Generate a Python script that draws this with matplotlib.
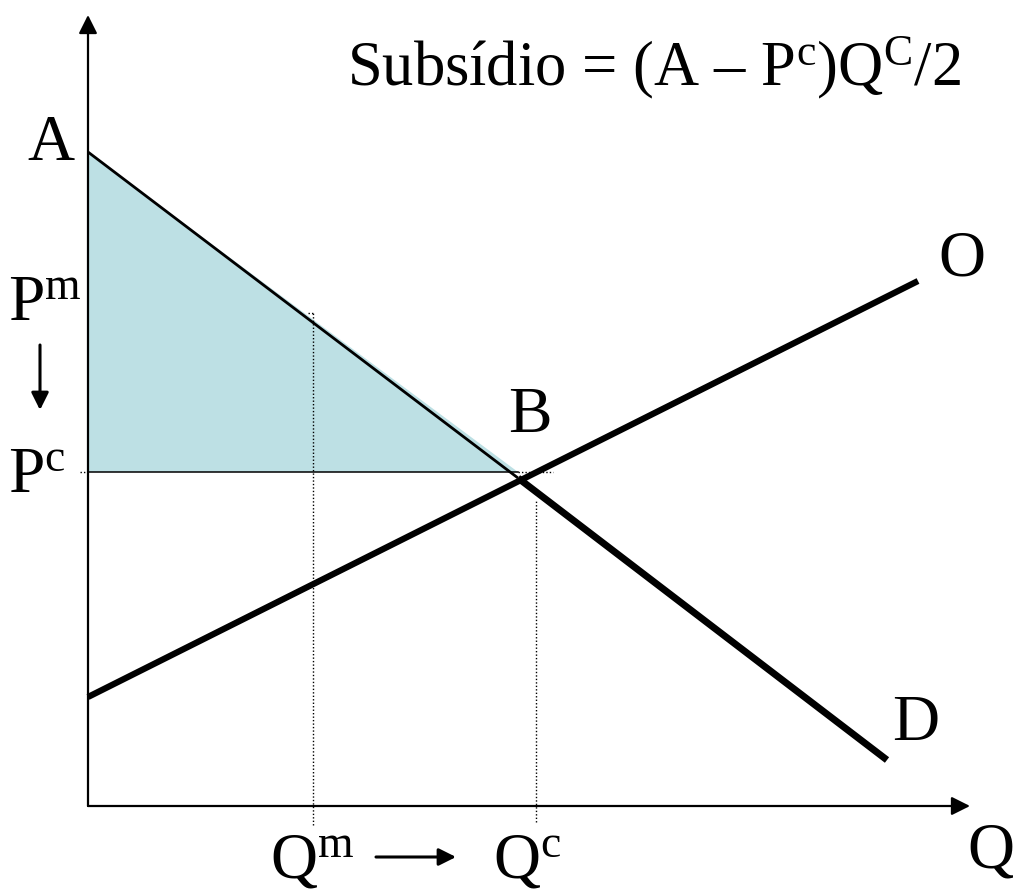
import matplotlib
matplotlib.use("Agg")
import matplotlib.pyplot as plt

plt.rcParams['font.family'] = ['Liberation Serif', 'DejaVu Serif']
plt.rcParams['mathtext.fontset'] = 'custom'
plt.rcParams['mathtext.rm'] = 'Liberation Serif'
plt.rcParams['mathtext.it'] = 'Liberation Serif:italic'

# Economic quantities (chart units)
A_price = 6.54
P_m = 4.93
P_c = 3.34
Q_m = 2.25
Q_c = 4.48
B_point = (4.30, 3.28)
demand_end = (7.99, 0.46)
supply_start = (0.0, 1.09)
supply_end = (8.30, 5.25)
x_axis_end = 8.82
y_axis_end = 7.91

fill_color = '#BDE0E4'

fig = plt.figure(figsize=(10.13, 8.91), dpi=100)
ax = fig.add_axes([0, 0, 1, 1])
ax.set_xlim(-0.88, 9.25)
ax.set_ylim(-0.85, 8.06)
ax.axis('off')

# shaded triangle (subsidy)
ax.fill([0, 0, B_point[0]], [A_price, P_c, P_c], color=fill_color, zorder=1, lw=0)

# axes with arrows
ax.annotate('', xy=(0, y_axis_end), xytext=(0, 0),
            arrowprops=dict(arrowstyle='-|>', lw=1.6, color='black', mutation_scale=28, shrinkA=0, shrinkB=0), zorder=5)
ax.annotate('', xy=(x_axis_end, 0), xytext=(0, 0),
            arrowprops=dict(arrowstyle='-|>', lw=1.6, color='black', mutation_scale=28, shrinkA=0, shrinkB=0), zorder=5)

# Pc horizontal line
ax.plot([0, B_point[0]], [P_c, P_c], color='black', lw=1.1, zorder=3)
ax.plot([B_point[0], 4.65], [P_c, P_c], color='black', lw=1.0, ls=(0, (1, 1.5)), zorder=3)
ax.plot([-0.08, 0], [P_c, P_c], color='black', lw=1.0, ls=(0, (1, 1.5)), zorder=3)

# dotted verticals
ax.plot([Q_m, Q_m], [-0.19, P_m], color='black', lw=1.0, ls=(0, (1, 1.5)), zorder=3)
ax.plot([Q_m - 0.05, Q_m], [P_m, P_m], color='black', lw=1.0, ls=(0, (1, 1.5)), zorder=3)
ax.plot([Q_c, Q_c], [-0.16, P_c - 0.28], color='black', lw=1.0, ls=(0, (1, 1.5)), zorder=3)

# demand: upper part thin, lower part thick
ax.plot([0, B_point[0]], [A_price, B_point[1]], color='black', lw=2.0, zorder=4, solid_capstyle='butt')
ax.plot([B_point[0], demand_end[0]], [B_point[1], demand_end[1]], color='black', lw=5.0, zorder=4, solid_capstyle='butt')
# supply
ax.plot([supply_start[0], supply_end[0]], [supply_start[1], supply_end[1]], color='black', lw=4.5, zorder=4, solid_capstyle='butt')

fs = 47
ax.text(-0.14, 6.46, 'A', fontsize=fs, ha='right', va='baseline')
ax.text(-0.80, 4.86, r'P$^{\mathrm{m}}$', fontsize=fs, ha='left', va='baseline')
ax.text(-0.80, 3.14, r'P$^{\mathrm{c}}$', fontsize=fs, ha='left', va='baseline')
ax.text(4.20, 3.74, 'B', fontsize=fs, ha='left', va='baseline')
ax.text(8.50, 5.30, 'O', fontsize=fs, ha='left', va='baseline')
ax.text(8.04, 0.66, 'D', fontsize=fs, ha='left', va='baseline')
ax.text(8.79, -0.61, 'Q', fontsize=fs, ha='left', va='baseline')
ax.text(1.82, -0.72, r'Q$^{\mathrm{m}}$', fontsize=fs, ha='left', va='baseline')
ax.text(4.05, -0.72, r'Q$^{\mathrm{c}}$', fontsize=fs, ha='left', va='baseline')
ax.text(2.59, 7.21, r'Subsídio = (A – P$^{\mathrm{c}}$)Q$^{\mathrm{C}}$/2', fontsize=45, ha='left', va='baseline')

# movement arrows
ax.annotate('', xy=(-0.48, 3.96), xytext=(-0.48, 4.61),
            arrowprops=dict(arrowstyle='-|>', lw=2.2, color='black', mutation_scale=26, shrinkA=0, shrinkB=0))
ax.annotate('', xy=(3.68, -0.51), xytext=(2.88, -0.51),
            arrowprops=dict(arrowstyle='-|>', lw=2.2, color='black', mutation_scale=26, shrinkA=0, shrinkB=0))

fig.savefig('out.png', dpi=100)
